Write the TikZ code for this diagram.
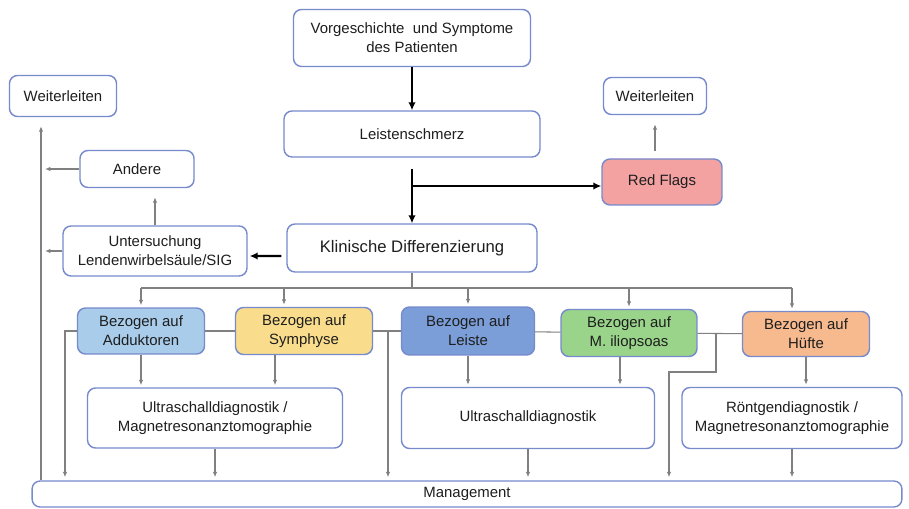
\documentclass[tikz,border=0pt]{standalone}
\usepackage{fontspec}
\setmainfont{Liberation Sans}
\usetikzlibrary{arrows.meta}
\definecolor{boxline}{RGB}{118,138,204}
\definecolor{linkgray}{RGB}{128,128,128}
\definecolor{txt}{RGB}{30,30,30}
\definecolor{redflag}{RGB}{243,161,161}
\definecolor{addblue}{RGB}{168,204,234}
\definecolor{symyellow}{RGB}{249,221,140}
\definecolor{leisblue}{RGB}{124,158,216}
\definecolor{iliogreen}{RGB}{154,212,138}
\definecolor{hueftorange}{RGB}{247,185,142}

\begin{document}
\begin{tikzpicture}[x=0.02cm, y=-0.02cm,
    flowbox/.style={draw=boxline, line width=0.8pt, rounded corners=0.16cm, fill=white,
      text=txt, align=center, inner sep=0pt, font=\fontsize{8.5}{11}\selectfont},
    mainflow/.style={line width=1.3pt, -{Latex[length=1.6mm,width=1.5mm]}},
    sideflow/.style={draw=linkgray, line width=0.6pt, -{Latex[length=1.1mm,width=0.9mm]}},
    sideline/.style={draw=linkgray, line width=0.6pt}]

      \useasboundingbox (0,0) rectangle (909,509);

      \node[flowbox, minimum width=4.74cm, minimum height=1.14cm] (vorg) at (412,38) {Vorgeschichte~ und Symptome\\des Patienten};
      \node[flowbox, minimum width=5.12cm, minimum height=0.92cm] (schmerz) at (412,134) {Leistenschmerz};
      \node[flowbox, minimum width=2.14cm, minimum height=0.82cm] (weitL) at (63,96) {Weiterleiten};
      \node[flowbox, minimum width=2.06cm, minimum height=0.74cm] (weitR) at (655,96) {Weiterleiten};
      \node[flowbox, fill=redflag, minimum width=2.4cm, minimum height=0.92cm] (red) at (662,182) {Red Flags};
      \node[flowbox, minimum width=2.28cm, minimum height=0.74cm] (andere) at (137,169) {Andere};
      \node[flowbox, minimum width=3.68cm, minimum height=1cm] (unters) at (155,251) {Untersuchung\\Lendenwirbelsäule/SIG};
      \node[flowbox, font=\fontsize{9.5}{11}\selectfont, minimum width=5cm, minimum height=0.96cm] (klin) at (412,248) {Klinische Differenzierung};

      \node[flowbox, fill=addblue, minimum width=2.54cm, minimum height=0.92cm] (add) at (141,331) {Bezogen auf\\Adduktoren};
      \node[flowbox, fill=symyellow, minimum width=2.74cm, minimum height=0.94cm] (sym) at (304,331) {Bezogen auf\\Symphyse};
      \node[flowbox, fill=leisblue, minimum width=2.66cm, minimum height=0.96cm] (leis) at (468,331) {Bezogen auf\\Leiste};
      \node[flowbox, fill=iliogreen, minimum width=2.72cm, minimum height=0.94cm] (ilio) at (629,333) {Bezogen auf\\M. iliopsoas};
      \node[flowbox, fill=hueftorange, minimum width=2.54cm, minimum height=0.9cm] (huef) at (806,334) {Bezogen auf\\Hüfte};

      \node[flowbox, minimum width=5.1cm, minimum height=1.2cm] (usmrt) at (215,418) {Ultraschalldiagnostik /\\Magnetresonanztomographie};
      \node[flowbox, minimum width=5.06cm, minimum height=1.22cm] (us) at (528,418) {Ultraschalldiagnostik};
      \node[flowbox, minimum width=4.4cm, minimum height=1.22cm] (roent) at (792,418) {Röntgendiagnostik /\\Magnetresonanztomographie};
      \node[flowbox, minimum width=17.4cm, minimum height=0.52cm] (mgmt) at (467,494) {Management};

      \coordinate (split) at (412,186);
      \coordinate (rail) at (41,0);
      \coordinate (bus) at (0,288);
      \coordinate (dropA) at (65,0);
      \coordinate (dropB) at (388,0);
      \coordinate (kneeA) at (716,372);
      \coordinate (kneeB) at (669,372);
      \coordinate (symin) at ([xshift=-0.4cm]sym.north);
      \coordinate (huefin) at ([xshift=-0.28cm]huef.north);
      \coordinate (symout) at ([xshift=-0.58cm]sym.south);
      \coordinate (ilioout) at ([xshift=-0.18cm]ilio.south);

      % upper part
      \draw[mainflow] (vorg) -- (schmerz);
      \draw[mainflow, shorten <=0.22cm] (schmerz) -- (klin);
      \draw[mainflow] (split) -- (split -| red.west);
      \draw[sideflow, shorten <=0.14cm, shorten >=0.18cm] (red.north -| weitR) -- (weitR.south);
      \draw[mainflow, shorten <=0.1cm, shorten >=0.04cm] ([yshift=-0.16cm]klin.west) -- ([yshift=-0.1cm]unters.east);
      \draw[sideflow, shorten >=0.18cm] (unters.north) -- (unters.north |- andere.south);
      \draw[sideflow, shorten >=0.08cm] (andere.west) -- (andere.west -| rail);
      \draw[sideflow, shorten >=0.08cm] (unters.west) -- (unters.west -| rail);
      \draw[sideflow, shorten >=0.18cm] (mgmt.north -| rail) -- (weitL.south -| rail);

      % fan out
      \draw[sideline] (klin.south) -- (klin.south |- bus);
      \draw[sideline] (bus -| add.north) -- (bus -| huefin);
      \draw[sideflow, shorten >=0.04cm] (bus -| add.north) -- (add.north);
      \draw[sideflow, shorten >=0.04cm] (bus -| symin) -- (symin);
      \draw[sideflow, shorten >=0.04cm] (bus -| leis.north) -- (leis.north);
      \draw[sideflow, shorten >=0.04cm] (bus -| ilio.north) -- (ilio.north);
      \draw[sideflow, shorten >=0.04cm] (bus -| huefin) -- (huefin);

      % lower part
      \draw[sideflow, shorten >=0.04cm] (add.south) -- (add.south |- usmrt.north);
      \draw[sideflow, shorten >=0.04cm] (symout) -- (symout |- usmrt.north);
      \draw[sideflow, shorten >=0.04cm] (leis.south) -- (leis.south |- us.north);
      \draw[sideflow, shorten >=0.04cm] (ilioout) -- (ilioout |- us.north);
      \draw[sideflow, shorten >=0.04cm] (huef.south) -- (huef.south |- roent.north);
      \draw[sideflow, shorten >=0.06cm] (usmrt.south) -- (usmrt.south |- mgmt.north);
      \draw[sideflow, shorten >=0.06cm] (us.south) -- (us.south |- mgmt.north);
      \draw[sideflow, shorten >=0.06cm] (roent.south) -- (roent.south |- mgmt.north);

      \draw[sideflow, shorten >=0.06cm] (add.west) -| (mgmt.north -| dropA);
      \draw[sideline] (add) -- (sym);
      \draw[sideline] (sym) -- (leis);
      \draw[sideflow, shorten >=0.06cm] (sym.east -| dropB) -- (mgmt.north -| dropB);
      \draw[sideline] (leis) -- (ilio);
      \draw[sideline] (ilio) -- (huef);
      \draw[sideflow, shorten >=0.06cm] (ilio.east -| kneeA) -- (kneeA) -- (kneeB) -- (mgmt.north -| kneeB);
    \end{tikzpicture}
\end{document}
